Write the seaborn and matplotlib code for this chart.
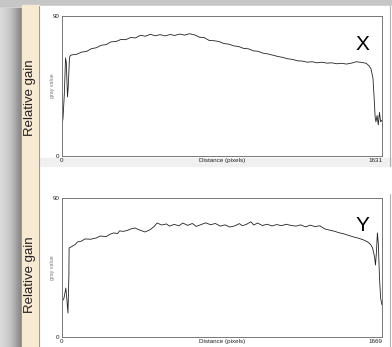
import numpy as np
import pandas as pd
import matplotlib
matplotlib.use("Agg")
import matplotlib.pyplot as plt
from matplotlib.patches import Rectangle
import seaborn as sns

# ---------------- data ----------------
x_dist = [0, 5, 12, 18, 22, 28, 32, 38, 42,
          50, 75, 100, 125, 150, 175, 200, 225, 250, 275, 300, 325, 350, 375, 400,
          425, 450, 475, 500, 525, 550, 575, 600, 625, 650, 675, 700, 725, 750, 775,
          800, 825, 850, 875, 900, 925, 950, 975, 1000, 1025, 1050, 1075, 1100, 1125,
          1150, 1175, 1200, 1225, 1250, 1275, 1300, 1325, 1350, 1375, 1400, 1425,
          1450, 1475, 1500, 1525, 1550, 1565, 1575,
          1585, 1592, 1596, 1600, 1606, 1612, 1618, 1624, 1631]
x_gray = [20, 24, 40, 63, 60, 38, 45, 63, 64.5,
          65.0, 65.4, 66.8, 67.2, 69.0, 69.6, 71.2, 71.6, 73.4, 73.6, 74.9, 74.8, 76.2, 75.9, 77.6,
          77.0, 78.2, 77.3, 78.0, 77.2, 78.1, 77.5, 78.4, 77.7, 78.6, 77.9, 76.4, 76.1, 74.3, 74.1,
          73.6, 72.3, 71.9, 70.8, 70.4, 69.2, 68.9, 67.6, 67.3, 66.1, 65.6, 64.8, 64.0, 63.4,
          62.5, 62.1, 61.2, 61.0, 60.3, 60.6, 59.9, 60.3, 59.7, 59.9, 59.3, 59.6,
          59.1, 59.7, 60.6, 60.2, 59.6, 58.0, 56.0,
          50, 35, 25, 22, 26, 20, 28, 22, 23]

y_dist = [0, 10, 20, 25, 31, 36, 37, 50, 70, 80, 100, 120, 150, 180, 200, 230, 250, 270,
          290, 300, 320, 340, 360, 381, 400, 433, 460, 480, 496,
          520, 545, 560, 585, 610, 630, 655, 680, 700, 725, 750, 775, 800, 825, 850, 875,
          900, 925, 940, 960, 985, 1000, 1020, 1045, 1070, 1095, 1120, 1145, 1170, 1195,
          1220, 1245, 1270, 1295, 1320, 1345, 1370, 1395, 1420, 1445, 1470, 1495, 1520,
          1545, 1570, 1595, 1610, 1620, 1630, 1635, 1640, 1645, 1650, 1656, 1662, 1669]
y_gray = [22.7, 25, 31.7, 25, 15.5, 40, 57.6, 58.5, 60, 61.5, 62, 63.5, 63.3, 64.2, 65.4, 65.0, 66.5, 67.4,
          67.0, 68.7, 68.4, 69.0, 70.0, 70.6, 69.5, 68.0, 69.5, 71.5, 73.8,
          72.5, 73.2, 71.8, 72.9, 72.0, 73.8, 72.3, 73.5, 71.6, 72.8, 73.9, 72.7, 73.5, 71.8, 72.6, 71.2,
          71.9, 73.4, 72.1, 72.8, 74.6, 72.5, 73.8, 72.2, 73.0, 71.9, 72.8, 72.1, 73.0, 72.2,
          71.8, 72.6, 71.3, 72.4, 71.5, 72.0, 70.0, 69.2, 68.5, 67.5, 66.8, 65.8, 64.8,
          64.0, 63.0, 61.5, 59.8, 57.6, 52, 46.6, 55, 67.4, 60, 38, 25, 20.7]

panel_letters = ["X", "Y"]
x_max = [1631, 1669]
y_max = 90
axis_title_x = "Distance (pixels)"
axis_title_y = "gray value"
side_label = "Relative gain"

# ---------------- figure ----------------
sns.set_theme(style="white")
plt.rcParams["font.family"] = ["Liberation Sans", "DejaVu Sans"]

W, H = 392, 347
fig = plt.figure(figsize=(W / 100, H / 100), dpi=100)
fig.patch.set_facecolor("#d2d2d2")

# background decoration in pixel coordinates
bg = fig.add_axes([0, 0, 1, 1], zorder=-10)
bg.set_xlim(0, W)
bg.set_ylim(H, 0)
bg.axis("off")
cols = np.array([0, 6, 12, 17, 20, 22], dtype=float)
vals = np.array([0.86, 0.82, 0.74, 0.62, 0.55, 0.52])
xs = np.linspace(0, 22, 60)
prof = np.interp(xs, cols, vals)
grad = np.tile(prof, (40, 1))
bg.imshow(grad, cmap="gray", vmin=0, vmax=1, extent=[0, 22, H, 8], aspect="auto", zorder=0)
bg.add_patch(Rectangle((0, 0), W, 6, color="#c6c6c6", zorder=1))
bg.add_patch(Rectangle((22, 5), 17, H - 5, color="#f8ead2", zorder=1))
bg.add_patch(Rectangle((39, 6), W - 39, H - 6, color="white", zorder=1))
bg.add_patch(Rectangle((39, 158), W - 39, 8, color="#f0f0f0", zorder=2))
bg.plot([39, 39], [6, H], color="#9a9a9a", lw=0.8, zorder=3)
bg.plot([390, 390], [6, 166], color="#b0b0b0", lw=0.8, zorder=3)
bg.plot([390, 390], [194, H], color="#b0b0b0", lw=0.8, zorder=3)

ax_rects = [
    [62 / W, (H - 156) / H, 320 / W, 140 / H],
    [62 / W, (H - 337) / H, 320 / W, 139 / H],
]
data = [
    pd.DataFrame({"dist": x_dist, "gray": x_gray}),
    pd.DataFrame({"dist": y_dist, "gray": y_gray}),
]

for i, rect in enumerate(ax_rects):
    ax = fig.add_axes(rect)
    ax.set_facecolor("white")
    sns.lineplot(data=data[i], x="dist", y="gray", ax=ax, color="#222222",
                 lw=0.6, estimator=None, sort=False)
    ax.set_xlim(0, x_max[i])
    ax.set_ylim(0, y_max)
    ax.set_xticks([0, x_max[i]])
    ax.set_xticklabels(["0", str(x_max[i])])
    ax.set_yticks([0, y_max])
    ax.set_yticklabels(["0", str(y_max)])
    ax.tick_params(axis="both", length=0, labelsize=4.5, colors="#222222", pad=2)
    ax.tick_params(axis="x", pad=1.5)
    xl = ax.get_xticklabels()
    xl[0].set_ha("center")
    xl[-1].set_ha("right")
    ax.set_xlabel(axis_title_x, fontsize=4.5, color="#222222", labelpad=-4)
    ax.set_ylabel(axis_title_y, fontsize=3.8, color="#777777", labelpad=-2)
    for s in ax.spines.values():
        s.set_color("#777777")
        s.set_linewidth(0.7)
    ax.text(0.94, 0.8, panel_letters[i], transform=ax.transAxes, fontsize=15,
            ha="center", va="center", color="black")

fig.text(30 / W, 1 - 98 / H, side_label, rotation=90, fontsize=9.5,
         ha="center", va="center", color="#222222")
fig.text(30 / W, 1 - 275 / H, side_label, rotation=90, fontsize=9.5,
         ha="center", va="center", color="#222222")

fig.savefig("out.png", dpi=100)
